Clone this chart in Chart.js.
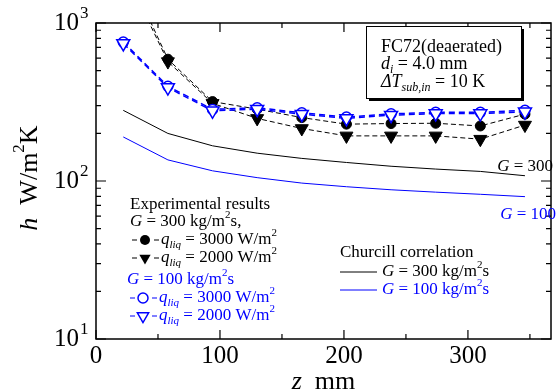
<!DOCTYPE html>
<html>
<head>
<meta charset="utf-8">
<script src="https://cdn.jsdelivr.net/npm/chart.js@4.4.1/dist/chart.umd.min.js"></script>
<style>
  html, body { margin: 0; padding: 0; background: #fff; }
</style>
</head>
<body>
<canvas id="chart" width="560" height="392"></canvas>
<script>
// axial position z (mm)
const zPos = [22, 58, 94, 130, 166, 202, 238, 274, 310, 346];
// experimental h (W/m2K)
const h300q3000 = [2400, 590, 318, 285, 252, 229, 231, 232, 223, 265];
const h300q2000 = [2200, 570, 310, 249, 215, 193, 193, 193, 184, 226];
const h100q3000 = [757, 398, 284, 291, 270, 254, 266, 272, 272, 280];
const h100q2000 = [742, 390, 278, 285, 265, 249, 261, 267, 267, 274];
// Churcill correlation
const churchill300 = [280, 200, 167, 150, 139, 131, 124, 119, 115, 108];
const churchill100 = [190, 136, 116, 105, 97, 92, 88, 85, 82.4, 79.6];

const xMajor = [0, 100, 200, 300];
const xMinor = [50, 150, 250, 350];
const yMajor = [10, 100, 1000];

const BLUE = '#0000ff';
const SERIF = '"Liberation Serif", "Times New Roman", serif';

const pts = arr => arr.map((v, i) => ({ x: zPos[i], y: v }));

// draw text made of pieces: {t, i (italic), sub, sup}
function rich(ctx, x, y, parts, size, align, color) {
  const fontOf = p => {
    const s = (p.sub || p.sup) ? Math.round(size * 0.65) : size;
    return (p.i ? 'italic ' : '') + s + 'px ' + SERIF;
  };
  let total = 0;
  parts.forEach(p => { ctx.font = fontOf(p); total += ctx.measureText(p.t).width; });
  let cx = x;
  if (align === 'right') cx = x - total;
  if (align === 'center') cx = x - total / 2;
  ctx.fillStyle = color || '#000';
  ctx.textBaseline = 'middle';
  ctx.textAlign = 'left';
  parts.forEach(p => {
    ctx.font = fontOf(p);
    let dy = 0;
    if (p.sub) dy = size * 0.3;
    if (p.sup) dy = -size * 0.4;
    ctx.fillText(p.t, cx, y + dy);
    cx += ctx.measureText(p.t).width;
  });
}

function marker(ctx, kind, x, y, color) {
  ctx.save();
  ctx.strokeStyle = color;
  ctx.lineWidth = 1.5;
  ctx.beginPath();
  if (kind === 'circle' || kind === 'ocircle') {
    ctx.arc(x, y, 5, 0, Math.PI * 2);
  } else {
    const r = 6.5;
    ctx.moveTo(x, y + r);
    ctx.lineTo(x - r * 0.866, y - r / 2);
    ctx.lineTo(x + r * 0.866, y - r / 2);
    ctx.closePath();
  }
  if (kind === 'circle' || kind === 'tri') { ctx.fillStyle = color; ctx.fill(); }
  else { ctx.fillStyle = '#fff'; ctx.fill(); ctx.stroke(); }
  ctx.restore();
}

const decorations = {
  id: 'decorations',
  afterDraw(chart) {
    const ctx = chart.ctx;
    const a = chart.chartArea;
    const xs = chart.scales.x, ys = chart.scales.y;
    ctx.save();

    // frame
    ctx.strokeStyle = '#000';
    ctx.lineWidth = 1.5;
    ctx.strokeRect(a.left, a.top, a.right - a.left, a.bottom - a.top);

    // inward ticks
    ctx.lineWidth = 1.2;
    ctx.beginPath();
    const yTick = (v, len) => {
      const py = ys.getPixelForValue(v);
      ctx.moveTo(a.left, py); ctx.lineTo(a.left + len, py);
      ctx.moveTo(a.right, py); ctx.lineTo(a.right - len, py);
    };
    yMajor.forEach(v => yTick(v, 10));
    [10, 100].forEach(d => { for (let m = 2; m <= 9; m++) yTick(d * m, 5); });
    const xTick = (v, len) => {
      const px = xs.getPixelForValue(v);
      ctx.moveTo(px, a.bottom); ctx.lineTo(px, a.bottom - len);
      ctx.moveTo(px, a.top); ctx.lineTo(px, a.top + len);
    };
    xMajor.forEach(v => xTick(v, 9));
    xMinor.forEach(v => xTick(v, 5));
    ctx.stroke();

    // tick labels
    yMajor.forEach(v => {
      const py = ys.getPixelForValue(v);
      rich(ctx, 79, py, [{ t: '10' }], 25, 'right');
      rich(ctx, 80, py - 9, [{ t: String(Math.round(Math.log10(v))) }], 17, 'left');
    });
    xMajor.forEach(v => {
      rich(ctx, xs.getPixelForValue(v), 356, [{ t: String(v) }], 25, 'center');
    });

    // axis titles
    rich(ctx, (a.left + a.right) / 2, 382, [{ t: 'z', i: true }, { t: '  mm' }], 26, 'center');
    ctx.save();
    ctx.translate(30, 178);
    ctx.rotate(-Math.PI / 2);
    rich(ctx, 0, 0, [{ t: 'h', i: true }, { t: '  W/m' }, { t: '2', sup: true }, { t: 'K' }], 26, 'center');
    ctx.restore();

    // condition box
    ctx.fillStyle = '#000';
    ctx.fillRect(369, 29, 155, 72);
    ctx.fillStyle = '#fff';
    ctx.fillRect(366, 26, 155, 72);
    ctx.lineWidth = 1;
    ctx.strokeRect(366.5, 26.5, 155, 72);
    rich(ctx, 381, 47, [{ t: 'FC72(deaerated)' }], 18);
    rich(ctx, 381, 64, [{ t: 'd', i: true }, { t: 'i', i: true, sub: true }, { t: ' = 4.0 mm' }], 18);
    rich(ctx, 381, 82, [{ t: 'ΔT', i: true }, { t: 'sub,in', i: true, sub: true }, { t: ' = 10 K' }], 18);

    // curve labels
    rich(ctx, 553, 167, [{ t: 'G', i: true }, { t: ' = 300' }], 17, 'right');
    rich(ctx, 556, 215, [{ t: 'G', i: true }, { t: ' = 100' }], 17, 'right', BLUE);

    // experimental legend
    rich(ctx, 130, 205, [{ t: 'Experimental results' }], 17);
    rich(ctx, 130, 222, [{ t: 'G', i: true }, { t: ' = 300 kg/m' }, { t: '2', sup: true }, { t: 's,' }], 17);
    rich(ctx, 127, 280, [{ t: 'G', i: true }, { t: ' = 100 kg/m' }, { t: '2', sup: true }, { t: 's' }], 17, 'left', BLUE);
    const rows = [
      { y: 240, x: 145, kind: 'circle', q: '3000', c: '#000' },
      { y: 258, x: 145, kind: 'tri', q: '2000', c: '#000' },
      { y: 298, x: 143, kind: 'ocircle', q: '3000', c: BLUE },
      { y: 316, x: 143, kind: 'otri', q: '2000', c: BLUE }
    ];
    rows.forEach(r => {
      ctx.strokeStyle = r.c;
      ctx.lineWidth = 1.2;
      ctx.beginPath();
      ctx.moveTo(r.x - 13, r.y); ctx.lineTo(r.x - 8, r.y);
      ctx.moveTo(r.x + 9, r.y); ctx.lineTo(r.x + 14, r.y);
      ctx.stroke();
      marker(ctx, r.kind, r.x, r.y, r.c);
      rich(ctx, r.x + 16, r.y, [{ t: 'q', i: true }, { t: 'liq', i: true, sub: true }, { t: ' = ' + r.q + ' W/m' }, { t: '2', sup: true }], 17, 'left', r.c);
    });

    // correlation legend
    rich(ctx, 340, 253, [{ t: 'Churcill correlation' }], 17);
    ctx.lineWidth = 1;
    ctx.strokeStyle = '#000';
    ctx.beginPath(); ctx.moveTo(340, 272); ctx.lineTo(377, 272); ctx.stroke();
    rich(ctx, 382, 272, [{ t: 'G', i: true }, { t: ' = 300 kg/m' }, { t: '2', sup: true }, { t: 's' }], 17);
    ctx.strokeStyle = BLUE;
    ctx.beginPath(); ctx.moveTo(340, 290); ctx.lineTo(377, 290); ctx.stroke();
    rich(ctx, 382, 290, [{ t: 'G', i: true }, { t: ' = 100 kg/m' }, { t: '2', sup: true }, { t: 's' }], 17, 'left', BLUE);

    ctx.restore();
  }
};

new Chart(document.getElementById('chart'), {
  type: 'line',
  data: {
    datasets: [
      { label: 'G=100 q=2000', data: pts(h100q2000), borderColor: BLUE, borderWidth: 1.5, borderDash: [6, 4],
        pointStyle: 'triangle', pointRotation: 180, pointRadius: 7.5, pointBorderWidth: 1.5,
        pointBorderColor: BLUE, pointBackgroundColor: '#fff' },
      { label: 'G=100 q=3000', data: pts(h100q3000), borderColor: BLUE, borderWidth: 1.5, borderDash: [6, 4],
        pointStyle: 'circle', pointRadius: 5, pointBorderWidth: 1.5,
        pointBorderColor: BLUE, pointBackgroundColor: '#fff' },
      { label: 'G=300 q=3000', data: pts(h300q3000), borderColor: '#000', borderWidth: 1, borderDash: [5, 3],
        pointStyle: 'circle', pointRadius: 5, pointBorderWidth: 1,
        pointBorderColor: '#000', pointBackgroundColor: '#000' },
      { label: 'G=300 q=2000', data: pts(h300q2000), borderColor: '#000', borderWidth: 1, borderDash: [5, 3],
        pointStyle: 'triangle', pointRotation: 180, pointRadius: 7.5, pointBorderWidth: 1,
        pointBorderColor: '#000', pointBackgroundColor: '#000' },
      { label: 'Churcill G=300', data: pts(churchill300), borderColor: '#000', borderWidth: 1, pointRadius: 0 },
      { label: 'Churcill G=100', data: pts(churchill100), borderColor: BLUE, borderWidth: 1, pointRadius: 0 }
    ]
  },
  options: {
    responsive: false,
    animation: false,
    devicePixelRatio: 1,
    layout: { padding: { left: 96, right: 1, top: 23, bottom: 53 } },
    plugins: { legend: { display: false }, tooltip: { enabled: false } },
    elements: { line: { tension: 0, fill: false } },
    scales: {
      x: { type: 'linear', min: 0, max: 367, display: false },
      y: { type: 'logarithmic', min: 10, max: 1000, display: false }
    }
  },
  plugins: [decorations]
});
</script>
</body>
</html>
